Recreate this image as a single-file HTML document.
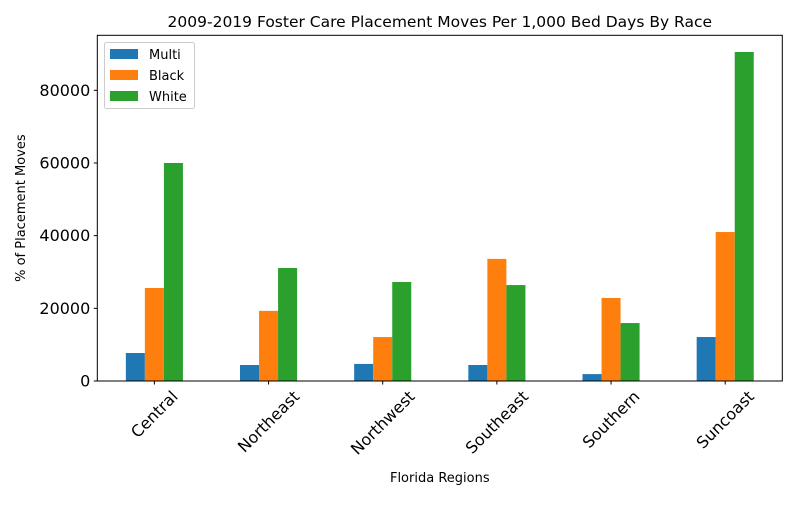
<!DOCTYPE html>
<html><head><meta charset="utf-8"><style>
body{margin:0;background:#fff;width:800px;height:500px;overflow:hidden}
svg text{font-family:"DejaVu Sans","Liberation Sans",sans-serif;fill:#000}
</style></head><body>
<svg id="chart" width="800" height="500" xmlns="http://www.w3.org/2000/svg"></svg>
<script>
const categories=["Central","Northeast","Northwest","Southeast","Southern","Suncoast"];
const multiValues=[7700,4400,4700,4400,1900,12100];
const blackValues=[25600,19300,12100,33600,22850,41000];
const whiteValues=[60000,31100,27250,26400,15950,90550];
const yTicks=[0,20000,40000,60000,80000];
const seriesNames=["Multi","Black","White"];
const colors=["#1f77b4","#ff7f0e","#2ca02c"];
const NS="http://www.w3.org/2000/svg";
const svg=document.getElementById('chart');
const L=97.3,R=782.3,T=35.3,B=381,yMax=95140;
const step=(R-L)/categories.length;
function y(v){return B-(v/yMax)*(B-T);}
function xc(i){return L+step*(i+0.5);}
function mk(tag,attrs,parent){const e=document.createElementNS(NS,tag);for(const k in attrs)e.setAttribute(k,attrs[k]);(parent||svg).appendChild(e);return e;}
const bw=step*0.5/3;
const series=[multiValues,blackValues,whiteValues];
series.forEach((vals,s)=>{vals.forEach((v,i)=>{
 const r=mk('rect',{x:xc(i)-1.5*bw+s*bw,y:y(v),width:bw,height:B-y(v),fill:colors[s]});
 
 
});});
const frame=mk('rect',{x:L,y:T,width:R-L,height:B-T,fill:'none',stroke:'#000','stroke-width':1});


yTicks.forEach(t=>{
 mk('line',{x1:L-3.5,x2:L,y1:y(t),y2:y(t),stroke:'#000'});
 const tx=mk('text',{x:L-7,y:y(t)+5.5,'text-anchor':'end','font-size':16});
 tx.textContent=t;
 
 
});
categories.forEach((c,i)=>{
 mk('line',{x1:xc(i),x2:xc(i),y1:B,y2:B+3.5,stroke:'#000'});
 const tx=mk('text',{x:0,y:5.5,'text-anchor':'middle','font-size':16});
 tx.textContent=c;
 
 
 const w=tx.getComputedTextLength();
 const bh=(w+16)*0.7071;
 tx.setAttribute('transform',`translate(${xc(i)},${B+7+bh/2}) rotate(-45)`);
});
const title=mk('text',{x:(L+R)/2,y:27,'text-anchor':'middle','font-size':15.5});
title.textContent="2009-2019 Foster Care Placement Moves Per 1,000 Bed Days By Race";


const xt=mk('text',{x:(L+R)/2,y:482,'text-anchor':'middle','font-size':13});
xt.textContent="Florida Regions";


const yt=mk('text',{x:0,y:0,'text-anchor':'middle','font-size':13,transform:`translate(25,${(T+B)/2}) rotate(-90)`});
yt.textContent="% of Placement Moves";


const lg=mk('g',{});


mk('rect',{x:104.5,y:42.5,width:90,height:66,rx:2,fill:'#fff',stroke:'#ccc'},lg);
seriesNames.forEach((n,s)=>{
 const sw=mk('rect',{x:110,y:49+s*21,width:28,height:10,fill:colors[s]},lg);
 
 
 const t=mk('text',{x:149,y:59+s*21,'font-size':13},lg);
 t.textContent=n;
 
 
});
</script>
</body></html>
